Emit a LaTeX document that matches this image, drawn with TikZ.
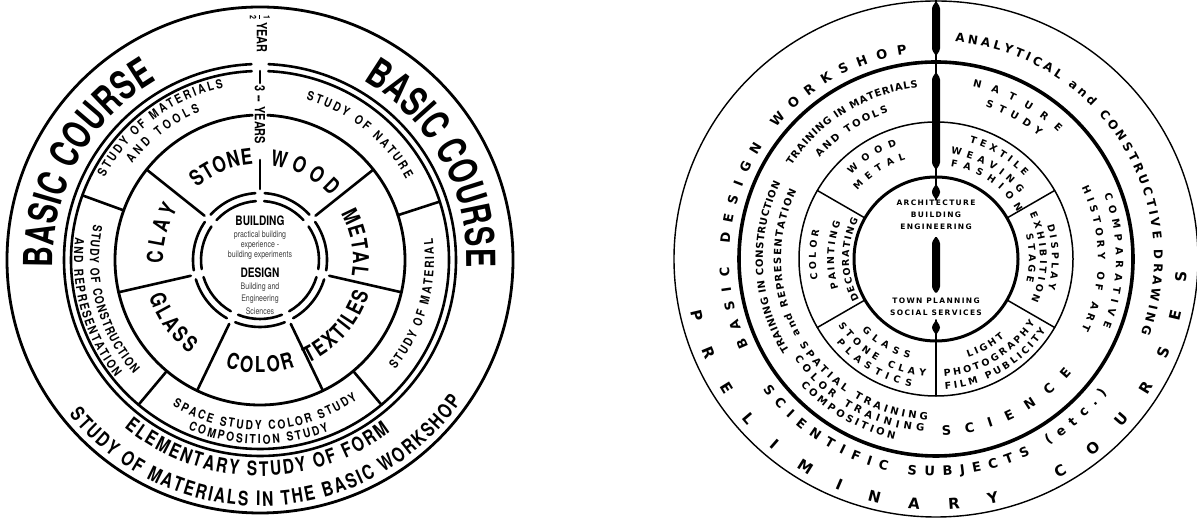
\documentclass[tikz,border=0pt]{standalone}
\usepackage{fontspec}
\usetikzlibrary{calc,decorations.text}

\newfontfamily\bigfont[FakeStretch=0.72]{TeX Gyre Heros}
\newfontfamily\cndfont[FakeStretch=0.78]{TeX Gyre Heros}
\newfontfamily\bandfont[FakeStretch=0.82]{TeX Gyre Heros}
\newfontfamily\widefont{DejaVu Sans}
\newfontfamily\hubfont[LetterSpace=18]{DejaVu Sans}

\newcommand\fbig{\bigfont\bfseries\fontsize{40}{40}\selectfont}
\newcommand\fmid{\cndfont\bfseries\fontsize{22}{22}\selectfont}
\newcommand\fform{\cndfont\bfseries\fontsize{20}{20}\selectfont}
\newcommand\fband{\bandfont\bfseries\fontsize{12.5}{12.5}\selectfont}
\newcommand\fcol{\cndfont\bfseries\fontsize{14}{14}\selectfont}
\newcommand\fhalf{\cndfont\bfseries\fontsize{9}{9}\selectfont}
\newcommand\fhubb{\cndfont\bfseries\fontsize{13}{13}\selectfont}
\newcommand\fhubs{\cndfont\fontsize{9}{10}\selectfont}
\newcommand\fpre{\widefont\bfseries\fontsize{15}{15}\selectfont}
\newcommand\fwa{\widefont\bfseries\fontsize{13}{13}\selectfont}
\newcommand\fwb{\widefont\bfseries\fontsize{12}{12}\selectfont}
\newcommand\fwc{\widefont\bfseries\fontsize{10}{10}\selectfont}
\newcommand\fws{\widefont\bfseries\fontsize{9.5}{9.5}\selectfont}
\newcommand\fhub{\hubfont\bfseries\fontsize{7.5}{7.5}\selectfont}

% text set along an arc: centre, radius, start angle, end angle, font, text
\newcommand\arclabel[6]{%
  \path[decorate,decoration={text along path,text align=fit to path,text={|#5|#6}}]
    ($(#1)+(#3:#2)$) arc[start angle=#3,end angle=#4,radius=#2];}

\tikzset{
  heavy/.style={line width=2.6},
  thinring/.style={line width=1.5},
}

\begin{document}
\begin{tikzpicture}[x=1pt,y=1pt,line cap=round]
  \useasboundingbox (0,0) rectangle (1197,518);
  \coordinate (L) at (260,258);
  \coordinate (R) at (936,259);

  % Left wheel: rings
  \draw[line width=2.8] (L) circle[radius=253];
  \draw[heavy] ($(L)+(92.5:196)$) arc[start angle=92.5,end angle=447.5,radius=196];
  \draw[heavy] ($(L)+(92.5:189)$) arc[start angle=92.5,end angle=447.5,radius=189];
  \draw[line width=2.8] ($(L)+(93:145)$) arc[start angle=93,end angle=447,radius=145];
  % Hub, broken where the spokes meet it
  \foreach \k in {0,...,6} {
    \pgfmathsetmacro\a{90-\k*360/7-4}
    \pgfmathsetmacro\b{90-(\k+1)*360/7+4}
    \draw[heavy] ($(L)+(\a:67)$) arc[start angle=\a,end angle=\b,radius=67];
    \draw[heavy] ($(L)+(\a:59)$) arc[start angle=\a,end angle=\b,radius=59];
  }
  % Spokes of the seven workshops
  \foreach \k in {1,...,6} {
    \pgfmathsetmacro\a{90-\k*360/7}
    \draw[heavy] ($(L)+(\a:71)$) -- ($(L)+(\a:145)$);
  }
  \draw[heavy] ($(L)+(90:71)$) -- ($(L)+(90:100)$);
  \draw[heavy] ($(L)+(90:177)$) -- ($(L)+(90:189)$);
  % Dividers of the study band
  \foreach \a in {18,160,-50,-130}
    \draw[heavy] ($(L)+(\a:145)$) -- ($(L)+(\a:189)$);

  % Years column
  \node[rotate=-90,anchor=west,inner sep=0pt] (half) at (260,504)
    {$\displaystyle\frac{\mbox{\fhalf 1}}{\mbox{\fhalf 2}}$\,\fcol YEAR};
  \node[rotate=-90,anchor=west,inner sep=0pt] (three) at (260,433)
    {\fcol 3\hspace{4pt}--\hspace{4pt}YEARS};

  % Left wheel: outer texts
  \arclabel{L}{207}{182}{120}{\fbig}{BASIC COURSE}
  \arclabel{L}{207}{60}{-2}{\fbig}{BASIC COURSE}
  \arclabel{L}{216}{-129}{-53}{\fform}{ELEMENTARY STUDY OF FORM}
  \arclabel{L}{246}{-141}{-35}{\fform}{STUDY OF MATERIALS IN THE BASIC WORKSHOP}
  % Study band
  \arclabel{L}{176}{152}{102}{\fband}{STUDY OF MATERIALS}
  \arclabel{L}{160}{143}{112}{\fband}{AND TOOLS}
  \arclabel{L}{167}{74}{29}{\fband}{STUDY OF NATURE}
  \arclabel{L}{174}{-39}{7}{\fband}{STUDY OF MATERIAL}
  \arclabel{L}{170}{-121}{-55}{\fband}{SPACE STUDY COLOR STUDY}
  \arclabel{L}{184}{-113}{-68}{\fband}{COMPOSITION STUDY}
  \arclabel{L}{170}{168}{222}{\fband}{STUDY OF CONSTRUCTION}
  \arclabel{L}{186}{173}{219}{\fband}{AND REPRESENTATION}
  % Workshops
  \arclabel{L}{96}{131}{94}{\fmid}{STONE}
  \arclabel{L}{95}{84}{42}{\fmid}{WOOD}
  \arclabel{L}{93}{30}{-10}{\fmid}{METAL}
  \arclabel{L}{114}{-65}{-17}{\fmid}{TEXTILES}
  \arclabel{L}{113}{-108}{-72}{\fmid}{COLOR}
  \arclabel{L}{117}{-162}{-127}{\fmid}{GLASS}
  \arclabel{L}{97}{182}{148}{\fmid}{CLAY}
  % Hub texts
  \node[font=\fhubb] (bld) at (260,297) {BUILDING};
  \node[font=\fhubs,black!75] (prac) at (260,283) {practical building};
  \node[font=\fhubs,black!75] (expe) at (260,273) {experience -};
  \node[font=\fhubs,black!75] (bexp) at (260,263) {building experiments};
  \node[font=\fhubb] (des) at (260,245) {DESIGN};
  \node[font=\fhubs,black!75] (bea) at (260,231) {Building and};
  \node[font=\fhubs,black!75] (eng) at (260,219) {Engineering};
  \node[font=\fhubs,black!75] (sci) at (260,207) {Sciences};

  % Right wheel: rings
  \draw[line width=1.4] (R) ellipse[x radius=262,y radius=258];
  \draw[line width=3.6] (R) circle[radius=197];
  \draw[thinring] (R) circle[radius=137];
  \draw[line width=3] (R) circle[radius=82];
  \foreach \a in {30,-30,150,210}
    \draw[thinring] ($(R)+(\a:82)$) -- ($(R)+(\a:137)$);
  % Axis bar
  \draw[line width=2] (936,518) -- (936,318);
  \draw[thinring] (936,198) -- (936,122);
  \foreach \ya/\yb in {517/462, 446/348, 334/318, 282/224, 198/183} {
    \fill[rounded corners=1.5] (936,\ya) -- (940,\ya-6) -- (940,\yb+6) -- (936,\yb)
      -- (932,\yb+6) -- (932,\ya-6) -- cycle;
  }

  % Right wheel: outer texts
  \arclabel{R}{251}{192}{357}{\fpre}{PRELIMINARY COURSES}
  \arclabel{R}{207}{205}{98}{\fwa}{BASIC DESIGN WORKSHOP}
  \arclabel{R}{217}{217}{322}{\fwa}{SCIENTIFIC SUBJECTS (etc.)}
  \arclabel{R}{218}{85}{-20}{\fwb}{ANALYTICAL and CONSTRUCTIVE DRAWING}
  % Training band
  \arclabel{R}{172}{147}{96}{\fwc}{TRAINING IN MATERIALS}
  \arclabel{R}{154}{139}{108}{\fwc}{AND TOOLS}
  \arclabel{R}{176}{78}{46}{\fwc}{NATURE}
  \arclabel{R}{160}{72}{50}{\fwc}{STUDY}
  \arclabel{R}{180}{21}{-22}{\fwc}{COMPARATIVE}
  \arclabel{R}{162}{26}{-26}{\fwc}{HISTORY OF ART}
  \arclabel{R}{177}{-88}{-40}{\fwa}{SCIENCE}
  \arclabel{R}{161}{-148}{-93}{\fwc}{SPATIAL TRAINING}
  \arclabel{R}{173}{-145}{-94}{\fwc}{COLOR TRAINING}
  \arclabel{R}{185}{-137}{-103}{\fwc}{COMPOSITION}
  \arclabel{R}{173}{212}{154}{\fwc}{TRAINING IN CONSTRUCTION}
  \arclabel{R}{155}{209}{154}{\fwc}{and REPRESENTATION}
  % Workshops
  \arclabel{R}{120}{135}{109}{\fws}{WOOD}
  \arclabel{R}{104}{139}{107}{\fws}{METAL}
  \arclabel{R}{121}{74}{43}{\fws}{TEXTILE}
  \arclabel{R}{106}{82}{38}{\fws}{WEAVING}
  \arclabel{R}{94}{81}{30}{\fws}{FASHION}
  \arclabel{R}{120}{190}{166}{\fws}{COLOR}
  \arclabel{R}{102}{197}{159}{\fws}{PAINTING}
  \arclabel{R}{87}{208}{153}{\fws}{DECORATING}
  \arclabel{R}{116}{17}{-15}{\fws}{DISPLAY}
  \arclabel{R}{104}{26}{-24}{\fws}{EXHIBITION}
  \arclabel{R}{93}{15}{-14}{\fws}{STAGE}
  \arclabel{R}{103}{-136}{-105}{\fws}{GLASS}
  \arclabel{R}{118}{-146}{-95}{\fws}{STONE CLAY}
  \arclabel{R}{130}{-140}{-101}{\fws}{PLASTICS}
  \arclabel{R}{104}{-72}{-49}{\fws}{LIGHT}
  \arclabel{R}{118}{-86}{-33}{\fws}{PHOTOGRAPHY}
  \arclabel{R}{131}{-86}{-33}{\fws}{FILM PUBLICITY}
  % Hub texts
  \node[font=\fhub] (arch) at (936,315) {ARCHITECTURE};
  \node[font=\fhub] (bldg) at (936,303) {BUILDING};
  \node[font=\fhub] (engr) at (936,291) {ENGINEERING};
  \node[font=\fhub] (town) at (936,217) {TOWN PLANNING};
  \node[font=\fhub] (socs) at (936,205) {SOCIAL SERVICES};
\end{tikzpicture}
\end{document}
